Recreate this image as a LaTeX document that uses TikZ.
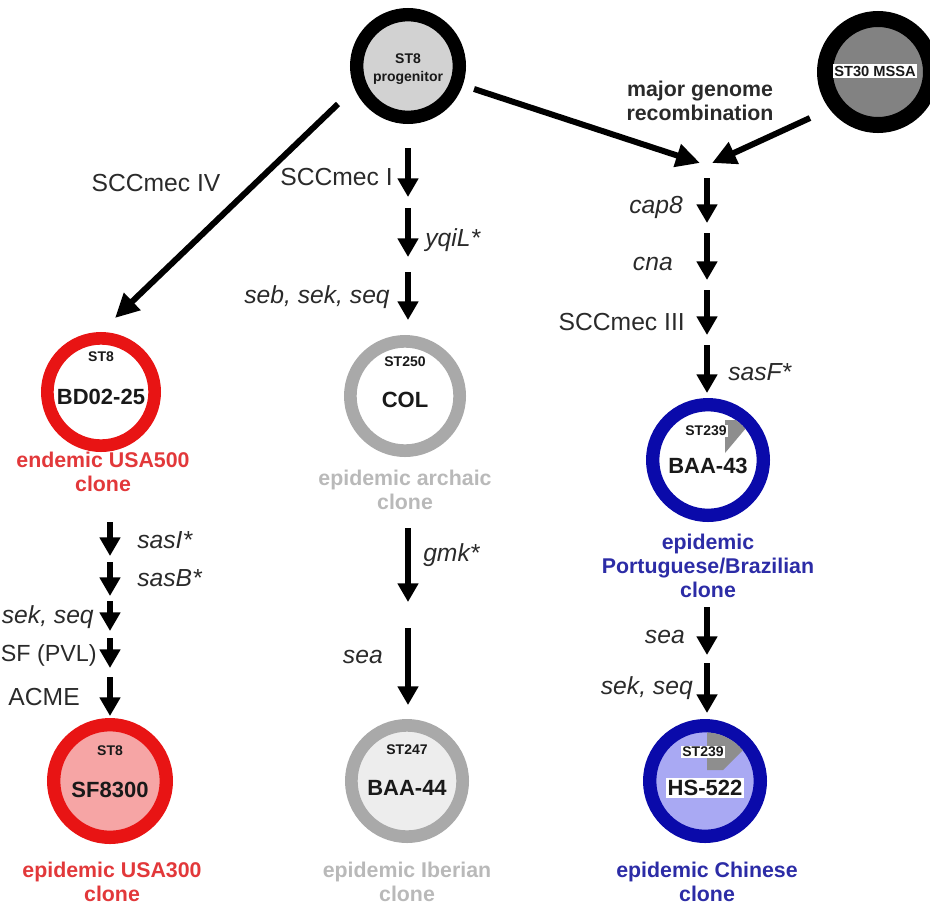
\documentclass[tikz,border=0pt]{standalone}
\usepackage{fontspec}
\setmainfont{Liberation Sans}
\usepackage{xcolor}
\usepackage{tikz}
\usetikzlibrary{arrows.meta,positioning,calc}
\definecolor{usared}{HTML}{E81414}
\definecolor{usatext}{HTML}{E2383A}
\definecolor{usafill}{HTML}{F6A5A5}
\definecolor{archgray}{HTML}{A9A9A9}
\definecolor{archtext}{HTML}{B9B9B9}
\definecolor{archfill}{HTML}{EDEDED}
\definecolor{brblue}{HTML}{0A0AAA}
\definecolor{brtext}{HTML}{2C2CA6}
\definecolor{brfill}{HTML}{A9A9F3}
\definecolor{progfill}{HTML}{D2D2D2}
\definecolor{mssafill}{HTML}{828282}
\definecolor{genetext}{HTML}{2A2A2A}
\definecolor{flaggray}{HTML}{8E8E8E}

\begin{document}
\begin{tikzpicture}[x=0.75pt,y=-0.75pt,
    every node/.style={font=\fontsize{18.5}{22}\selectfont},
    ring/.style={circle,draw,line width=9.5pt,inner sep=0pt,minimum size=#1},
    stlab/.style={font=\fontsize{10.5}{12}\selectfont\bfseries,text=black!90,inner sep=1pt},
    namelab/.style={font=\fontsize{16.5}{19}\selectfont\bfseries,text=black!90,inner sep=1.5pt},
    clonelab/.style={font=\fontsize{16}{18}\selectfont\bfseries,align=center},
    genelab/.style={text=genetext,inner sep=0pt},
    gain/.style={line width=4.8pt,-{Triangle[width=15pt,length=14pt]}},
    trunk/.style={line width=4.5pt,-{Triangle[width=17pt,length=18pt]}}]
  \useasboundingbox (0,0) rectangle (930,907);

  % founders
  \node[ring=77pt,line width=10pt,draw=black,fill=progfill] (prog) at (408,66) {};
  \node[stlab,align=center,font=\fontsize{10.5}{13.5}\selectfont\bfseries] (progtxt) at (408,69) {ST8\\progenitor};
  \node[ring=79.5pt,line width=12pt,draw=black,fill=mssafill] (mssa) at (878,72) {};
  \node[stlab,fill=white,font=\fontsize{11}{13}\selectfont\bfseries] (mssatxt) at (875,71) {ST30 MSSA};

  % clones
  \node[ring=80.5pt,draw=usared,fill=white] (bd) at (101,392) {};
  \node[ring=82pt,draw=archgray,fill=white] (col) at (405,396) {};
  \node[ring=83pt,line width=10pt,draw=brblue,fill=white] (baa43) at (708,460) {};
  \node[ring=84.5pt,line width=10pt,draw=usared,fill=usafill] (sf) at (110,781) {};
  \node[ring=83.5pt,draw=archgray,fill=archfill] (baa44) at (407,781) {};
  \node[ring=83pt,line width=10pt,draw=brblue,fill=brfill] (hs) at (705,781) {};

  % grey flags in the ST239 clones
  \begin{scope}
    \clip (baa43) circle[radius=36.5pt];
    \fill[flaggray] (725,420) -- (742,420) -- (746,428) -- (725,453) -- cycle;
  \end{scope}
  \begin{scope}
    \clip (hs) circle[radius=36.5pt];
    \fill[flaggray] (707,731) -- (730,731) -- (748,745) -- (723,770) -- (707,770) -- cycle;
  \end{scope}

  \node[stlab] (bdst) at (101,357) {ST8};
  \node[namelab] (bdname) at (101,397) {BD02-25};
  \node[stlab] (colst) at (405,362) {ST250};
  \node[namelab] (colname) at (405,400) {COL};
  \node[stlab,fill=white] (baa43st) at (706,431) {ST239};
  \node[namelab] (baa43name) at (708,466) {BAA-43};
  \node[stlab] (sfst) at (110,751) {ST8};
  \node[namelab] (sfname) at (110,790) {SF8300};
  \node[stlab] (baa44st) at (407,750) {ST247};
  \node[namelab] (baa44name) at (407,788) {BAA-44};
  \node[stlab,fill=white] (hsst) at (703,752) {ST239};
  \node[namelab,fill=white] (hsname) at (705,788) {HS-522};

  \node[clonelab,text=usatext] (bdlab) at (103,472) {endemic USA500\\clone};
  \node[clonelab,text=archtext] (collab) at (405,490) {epidemic archaic\\clone};
  \node[clonelab,text=brtext] (baa43lab) at (708,566) {epidemic\\Portuguese/Brazilian\\clone};
  \node[clonelab,text=usatext] (sflab) at (112,882) {epidemic USA300\\clone};
  \node[clonelab,text=archtext] (baa44lab) at (407,882) {epidemic Iberian\\clone};
  \node[clonelab,text=brtext] (hslab) at (707,882) {epidemic Chinese\\clone};

  % long branches
  \coordinate (ivs) at (338,104);
  \coordinate (ive) at (115,318);
  \draw[trunk] (ivs) -- (ive);
  \node[genelab] (ivlab) at (156,183) {SCCmec IV};
  \coordinate (rcl) at (474,89);
  \coordinate (rcr) at (810,118);
  \coordinate (rctl) at (700,163);
  \coordinate (rctr) at (712,163);
  \draw[trunk] (rcl) -- (rctl);
  \draw[trunk] (rcr) -- (rctr);
  \node[clonelab,text=genetext] (recomb) at (700,101) {major genome\\recombination};

  % gains, label on the left
  \foreach \n/\gx/\ga/\gb/\ly/\gap/\lab in {
      g1/408/148/197/177/15/{SCCmec I},
      g3/408/272/320/297/18/{\itshape seb, sek, seq},
      g5/408/628/705/657/25/{\itshape sea},
      g6/707/178/223/207/24/{\itshape cap8},
      g7/707/233/280/264/34/{\itshape cna},
      g8/707/290/335/322/22/{SCCmec III},
      g10/707/607/655/637/22/{\itshape sea},
      g11/707/663/713/688/14/{\itshape sek, seq},
      g14/110/601/631/617/16/{\itshape sek, seq},
      g15/110/638/668/655/13/{\fontsize{17.5}{21}\selectfont SF (PVL)},
      g16/110/677/716/697/30/{ACME}}{
    \coordinate (\n s) at (\gx,\ga);
    \coordinate (\n e) at (\gx,\gb);
    \draw[gain] (\n s) -- (\n e);
    \node[genelab,anchor=east] (\n l) at (\gx-\gap,\ly) {\lab};
  }

  % gains, label on the right
  \foreach \n/\gx/\ga/\gb/\ly/\gap/\lab in {
      g2/408/208/257/240/17/{\itshape yqiL*},
      g4/408/528/602/555/15/{\itshape gmk*},
      g9/707/345/393/372/21/{\itshape sasF*},
      g12/110/522/556/540/27/{\itshape sasI*},
      g13/110/562/596/578/27/{\itshape sasB*}}{
    \coordinate (\n s) at (\gx,\ga);
    \coordinate (\n e) at (\gx,\gb);
    \draw[gain] (\n s) -- (\n e);
    \node[genelab,anchor=west] (\n l) at (\gx+\gap,\ly) {\lab};
  }
\end{tikzpicture}
\end{document}
